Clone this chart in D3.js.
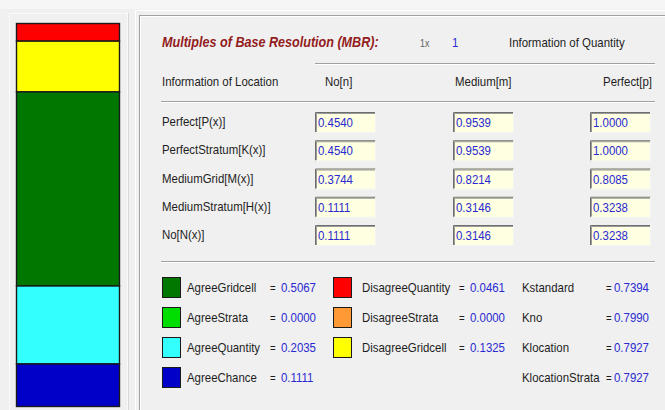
<!DOCTYPE html>
<html>
<head>
<meta charset="utf-8">
<script src="https://cdn.jsdelivr.net/npm/d3@7"></script>
<style>
  body { margin: 0; background: #f0f0f0; }
  svg { display: block; }
</style>
</head>
<body>
<div id="chart"></div>
<script>
// stacked bar + legend (top to bottom of the bar)
const categories = ["DisagreeQuantity", "DisagreeStrata", "DisagreeGridcell",
                    "AgreeGridcell", "AgreeStrata", "AgreeQuantity", "AgreeChance"];
const shares = [0.0461, 0.0000, 0.1325, 0.5067, 0.0000, 0.2035, 0.1111];
const colors = ["#ff0000", "#ff9933", "#ffff00", "#007800", "#00dd00", "#33ffff", "#0000c8"];

// legend columns
const legendLeft = ["AgreeGridcell", "AgreeStrata", "AgreeQuantity", "AgreeChance"];
const legendMid = ["DisagreeQuantity", "DisagreeStrata", "DisagreeGridcell"];

// kappa statistics
const kappaNames = ["Kstandard", "Kno", "Klocation", "KlocationStrata"];
const kappaValues = [0.7394, 0.7990, 0.7927, 0.7927];

// table: information of location x information of quantity
const rowLabels = ["Perfect[P(x)]", "PerfectStratum[K(x)]", "MediumGrid[M(x)]", "MediumStratum[H(x)]", "No[N(x)]"];
const colLabels = ["No[n]", "Medium[m]", "Perfect[p]"];
const noValues = [0.4540, 0.4540, 0.3744, 0.1111, 0.1111];
const mediumValues = [0.9539, 0.9539, 0.8214, 0.3146, 0.3146];
const perfectValues = [1.0000, 1.0000, 0.8085, 0.3238, 0.3238];
const mbr = 1;

const W = 665, H = 410;
const SX = 0.88; // the screenshot text is squeezed horizontally
const FONT = "'Liberation Sans', Arial, sans-serif";

const svg = d3.select("#chart").append("svg")
    .attr("width", W)
    .attr("height", H);

function txt(x, y, s, o = {}) {
    return svg.append("text")
        .attr("transform", `translate(${x},${y}) scale(${o.sx || SX},1)`)
        .attr("font-family", FONT)
        .attr("font-size", o.size || 13)
        .attr("font-weight", o.weight || "normal")
        .attr("font-style", o.style || "normal")
        .attr("text-anchor", o.anchor || "start")
        .attr("fill", o.fill || "#1e1e1e")
        .text(s);
}

// window background bits
svg.append("rect").attr("x", 0).attr("y", 0).attr("width", W).attr("height", H).attr("fill", "#f0f0f0");
svg.append("rect").attr("x", 0).attr("y", 0).attr("width", W).attr("height", 9).attr("fill", "#f6f6f6");
// left panel
svg.append("rect").attr("x", 9.5).attr("y", 13.5).attr("width", 118).attr("height", 400)
    .attr("fill", "#f0f0f0").attr("stroke", "#fafafa");
svg.append("line").attr("x1", 128.5).attr("x2", 128.5).attr("y1", 13).attr("y2", H).attr("stroke", "#d8d8d8");
// right panel
svg.append("rect").attr("x", 135.5).attr("y", 10.5).attr("width", 540).attr("height", 410)
    .attr("fill", "#f0f0f0").attr("stroke", "#ffffff");
svg.append("line").attr("x1", 139.5).attr("x2", 139.5).attr("y1", 16).attr("y2", H).attr("stroke", "#a0a0a0");
svg.append("line").attr("x1", 139).attr("x2", W).attr("y1", 15.5).attr("y2", 15.5).attr("stroke", "#a0a0a0");
svg.append("line").attr("x1", 140.5).attr("x2", 140.5).attr("y1", 16).attr("y2", H).attr("stroke", "#ffffff");
svg.append("line").attr("x1", 140).attr("x2", W).attr("y1", 16.5).attr("y2", 16.5).attr("stroke", "#ffffff");

// stacked bar
const total = d3.sum(shares);
const y = d3.scaleLinear().domain([0, total]).range([23, 406]);
const stacked = [];
let acc = 0;
shares.forEach((v, i) => { stacked.push({ name: categories[i], y0: acc, y1: acc + v, color: colors[i] }); acc += v; });

svg.append("g").selectAll("rect")
    .data(stacked.filter(d => d.y1 > d.y0))
    .join("rect")
    .attr("x", 16.5)
    .attr("width", 103)
    .attr("y", d => y(d.y0) + 0.5)
    .attr("height", d => y(d.y1) - y(d.y0))
    .attr("fill", d => d.color)
    .attr("stroke", "#1a1a1a")
    .attr("stroke-width", 1.4);

// header
txt(162, 47, "Multiples of Base Resolution (MBR):", { size: 14, sx: 0.9, weight: "bold", style: "italic", fill: "#931c1c" });
txt(420, 47, "1x", { size: 10, fill: "#606060" });
txt(452, 47, mbr, { fill: "#2a2ad0" });
txt(509, 47, "Information of Quantity");

function etched(x1, x2, yy) {
    svg.append("line").attr("x1", x1).attr("x2", x2).attr("y1", yy + 0.5).attr("y2", yy + 0.5).attr("stroke", "#a0a0a0");
    svg.append("line").attr("x1", x1).attr("x2", x2).attr("y1", yy + 1.5).attr("y2", yy + 1.5).attr("stroke", "#ffffff");
}
etched(315, 655, 63);
etched(161, 655, 101);
etched(161, 655, 261);

txt(162, 86, "Information of Location");
const colX = d3.scaleOrdinal().domain(colLabels).range([315, 453, 590]);
txt(325, 86, colLabels[0]);
txt(455, 86, colLabels[1]);
txt(652, 86, colLabels[2], { anchor: "end" });

// table boxes
const rowY = d3.scalePoint().domain(rowLabels).range([112, 225]);
const columns = [noValues, mediumValues, perfectValues];
rowLabels.forEach((r, i) => {
    txt(162, rowY(r) + 14, r);
    colLabels.forEach((c, j) => {
        const bx = colX(c), by = rowY(r);
        svg.append("rect").attr("x", bx).attr("y", by).attr("width", 61).attr("height", 21).attr("fill", "#ffffe1");
        svg.append("path").attr("d", `M${bx + 0.5},${by + 21}V${by + 0.5}H${bx + 61}`)
            .attr("fill", "none").attr("stroke", "#6e6e6e").attr("stroke-width", 1);
        svg.append("path").attr("d", `M${bx + 1.5},${by + 20}V${by + 1.5}H${bx + 60}`)
            .attr("fill", "none").attr("stroke", "#9a9a9a").attr("stroke-width", 1);
        svg.append("path").attr("d", `M${bx},${by + 20.5}H${bx + 60.5}V${by}`)
            .attr("fill", "none").attr("stroke", "#f4f4f4").attr("stroke-width", 1);
        txt(bx + 3, by + 15, d3.format(".4f")(columns[j][i]), { fill: "#2a2ad0" });
    });
});

// legend
const legY = d3.scalePoint().domain(d3.range(4)).range([277, 367]);
const share = name => shares[categories.indexOf(name)];
const color = name => colors[categories.indexOf(name)];

function legendItem(name, sx, lx, ex, vx, i) {
    const yy = legY(i);
    svg.append("rect").attr("x", sx + 0.5).attr("y", yy + 0.5).attr("width", 18).attr("height", 20)
        .attr("fill", color(name)).attr("stroke", "#1a1a1a");
    txt(lx, yy + 15, name);
    txt(ex, yy + 15, "=", { size: 11 });
    txt(vx, yy + 15, d3.format(".4f")(share(name)), { fill: "#2a2ad0" });
}
legendLeft.forEach((n, i) => legendItem(n, 162, 187, 270, 281, i));
legendMid.forEach((n, i) => legendItem(n, 333, 362, 459, 470, i));

kappaNames.forEach((n, i) => {
    const yy = legY(i);
    txt(522, yy + 15, n);
    txt(606, yy + 15, "=", { size: 11 });
    txt(614, yy + 15, d3.format(".4f")(kappaValues[i]), { fill: "#2a2ad0" });
});
</script>
</body>
</html>
